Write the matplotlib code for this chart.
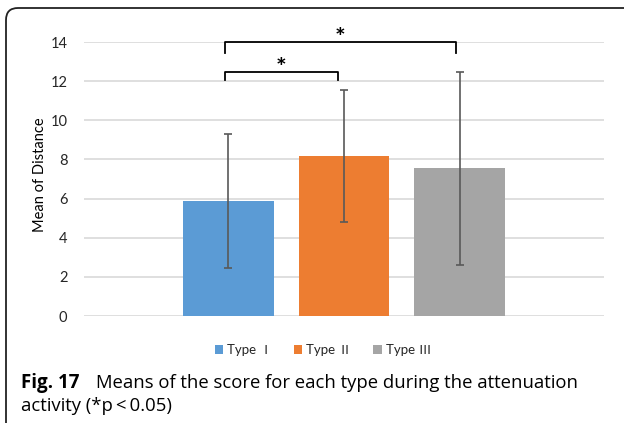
import matplotlib
matplotlib.use("Agg")
import matplotlib.pyplot as plt
from matplotlib.patches import FancyBboxPatch

# values
types = ["Type Ⅰ", "Type Ⅱ", "Type Ⅲ"]
means = [5.86, 8.18, 7.55]
sds = [3.43, 3.37, 4.92]
colors = ["#5B9BD5", "#ED7D31", "#A5A5A5"]
yticks = [0, 2, 4, 6, 8, 10, 12, 14]

# significance brackets: (left bar, right bar, bracket top, leg bottom)
brackets = [(0, 1, 12.48, 12.08), (0, 2, 14.0, 13.42)]

W, H = 624, 423
fig = plt.figure(figsize=(W / 100, H / 100), dpi=100)
ax = fig.add_axes([84 / W, 1 - 316 / H, 520 / W, 274 / H])

x = list(range(len(types)))
for i in x:
    ax.bar(i, means[i], width=0.785, color=colors[i], label=types[i],
           yerr=sds[i], capsize=2.8,
           error_kw=dict(ecolor="#595959", elinewidth=1.2, capthick=1.2),
           zorder=3)

ax.set_xlim(-1.245, 3.245)
ax.set_ylim(0, 14)
ax.set_yticks(yticks)
ax.set_xticks([])
ax.yaxis.grid(True, color="#d9d9d9", linewidth=1.2, zorder=0)
for s in ax.spines.values():
    s.set_visible(False)
ax.tick_params(axis="y", length=0, pad=12, labelsize=10.5, labelcolor="#262626")
for lbl in ax.get_yticklabels():
    lbl.set_family("Lato")

for a, b, top, bot in brackets:
    xl = a - 0.03
    xr = b - 0.05 if b == 1 else b - 0.03
    ax.plot([xl, xl, xr, xr], [bot, top, top, bot],
            color="black", lw=1.3, clip_on=False, zorder=4,
            solid_joinstyle="round")
    ax.text((xl + xr) / 2, top - 0.2, "*", ha="center", va="baseline",
            fontsize=18, fontweight="bold", fontfamily="Lato", clip_on=False)

fig.text(40 / W, 1 - 175 / H, "Mean of Distance", rotation=90,
         ha="center", va="center", fontsize=10.5, fontfamily="Lato")

leg = fig.legend(loc="center", bbox_to_anchor=(323 / W, 1 - 350 / H), ncol=3,
                 frameon=False, handlelength=0.65, handleheight=0.65,
                 handletextpad=0.3, columnspacing=1.6,
                 prop=dict(family=["Lato", "Noto Sans CJK JP"], size=9.5))
for t in leg.get_texts():
    t.set_color("#262626")

# border of the figure panel (left and top only, rounded corner)
border = FancyBboxPatch((0.06, -1.0), 8.0, (H - 8) / 100 + 1.0,
                        boxstyle="round,pad=0,rounding_size=0.12",
                        transform=fig.dpi_scale_trans, fill=False,
                        edgecolor="#222222", linewidth=1.3)
fig.patches.append(border)

cap = ["Open Sans", "DejaVu Sans"]
fig.text(21 / W, 1 - 388 / H, "Fig. 17", fontsize=13.5, fontweight="bold",
         fontfamily=cap, va="baseline")
fig.text(96 / W, 1 - 388 / H,
         "Means of the score for each type during the attenuation",
         fontsize=13.3, fontfamily=cap, va="baseline")
fig.text(21 / W, 1 - 411 / H, "activity (*p\u2009<\u20090.05)",
         fontsize=13.3, fontfamily=cap, va="baseline")

fig.savefig("out.png", dpi=100)
